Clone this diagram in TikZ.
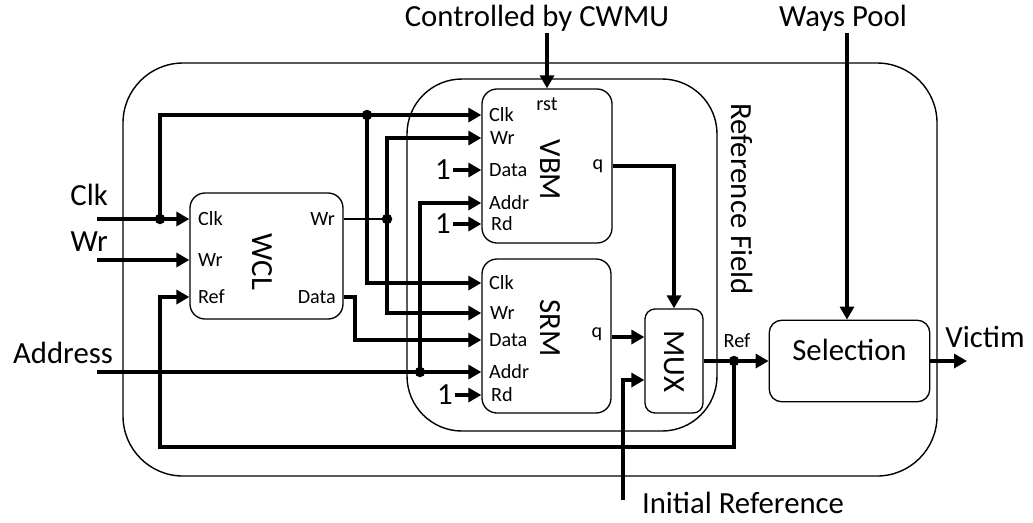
\documentclass[tikz,border=0pt]{standalone}
\usepackage{fontspec}
\setmainfont{Carlito}
\usetikzlibrary{arrows.meta, positioning, calc, fit}
\tikzset{
    blk/.style={draw, line width=0.75pt, rounded corners=0.3cm, inner sep=0pt, fill=white},
    frame/.style={draw, line width=0.8pt, rounded corners=1.2cm, inner sep=0pt},
    wire/.style={line width=0.08cm},
    arr/.style={wire, -{Triangle[length=0.26cm, width=0.28cm]}},
    dot/.style={circle, fill, inner sep=0pt, minimum size=0.21cm},
    lbl/.style={font=\fontsize{17.5}{20}\selectfont, inner sep=1pt},
    port/.style={font=\fontsize{11.5}{13}\selectfont, inner sep=1pt},
    blkname/.style={lbl, rotate=-90}
}
\begin{document}
\begin{tikzpicture}[x=0.02cm, y=-0.02cm]
        \useasboundingbox (0,0) rectangle (1033,522);
        % frames
        \node[frame, fit={(123,63) (937,476)}] (outer) {};
        \node[frame, rounded corners=1.1cm, fit={(407,79) (717,431)}] (rf) {};
        \node[blkname] (rftxt) at (742,199) {Reference Field};
        % blocks
        \node[blk, fit={(190,193) (343,319)}] (wcl) {};
        \node[blk, fit={(482,89) (612,243)}] (vbm) {};
        \node[blk, fit={(482,259) (611,413)}] (srm) {};
        \node[blk, rounded corners=0.2cm, fit={(645,309) (703,413)}] (mux) {};
        \node[blk, rounded corners=0.25cm, fit={(771,322) (928,400)}, lbl] (sel) {Selection};
        \node[blkname] (wcltxt) at (262,262) {WCL};
        \node[blkname] (vbmtxt) at (550,170) {VBM};
        \node[blkname] (srmtxt) at (550,328) {SRM};
        \node[blkname] (muxtxt) at (674,361) {MUX};
        % ports
        \node[port, anchor=west] (wclclk) at (196,219) {Clk};
        \node[port, anchor=west] (wclwr) at (196,260) {Wr};
        \node[port, anchor=west] (wclref) at (196,297) {Ref};
        \node[port, anchor=east] (wclwro) at (337,219) {Wr};
        \node[port, anchor=east] (wcldata) at (338,297) {Data};
        \node[port, anchor=west] (vbmclk) at (487,115) {Clk};
        \node[port, anchor=west] (vbmwr) at (488,138) {Wr};
        \node[port, anchor=west] (vbmdata) at (487,170) {Data};
        \node[port, anchor=west] (vbmaddr) at (487,203) {Addr};
        \node[port, anchor=west] (vbmrd) at (489,224) {Rd};
        \node[port] (vbmrst) at (547,104) {rst};
        \node[port] (vbmq) at (598,166) {q};
        \node[port, anchor=west] (srmclk) at (487,283) {Clk};
        \node[port, anchor=west] (srmwr) at (488,313) {Wr};
        \node[port, anchor=west] (srmdata) at (487,340) {Data};
        \node[port, anchor=west] (srmaddr) at (487,372) {Addr};
        \node[port, anchor=west] (srmrd) at (489,395) {Rd};
        \node[port] (srmq) at (597,334) {q};
        \node[port] (reftxt) at (737,341) {Ref};
        % outside labels
        \node[lbl] (cwmu) at (537,18) {Controlled by CWMU};
        \node[lbl] (ways) at (843,18) {Ways Pool};
        \node[lbl, anchor=east] (clk) at (110,195) {Clk};
        \node[lbl, anchor=east] (wr) at (110,242) {Wr};
        \node[lbl, anchor=east] (address) at (115,353) {Address};
        \node[lbl] (initref) at (743,503) {Initial Reference};
        \node[lbl] (victim) at (985,337) {Victim};
        \node[lbl] (one1) at (443,170) {1};
        \node[lbl] (one2) at (443,224) {1};
        \node[lbl] (one3) at (445,395) {1};
        % free ends
        \coordinate (clkin) at (97,219);
        \coordinate (wrin) at (97,260);
        \coordinate (addrin) at (97,372);
        \coordinate (initin) at (623,500);
        \coordinate (refloop) at (160,447);
        \coordinate (victout) at (967,361);
        % junctions
        \node[dot] (dclk) at (160,219) {};
        \node[dot] (dclk2) at (367,115) {};
        \node[dot] (dwr) at (387,219) {};
        \node[dot] (daddr) at (420,372) {};
        \node[dot] (dref) at (734,361) {};
        % wires
        \draw[arr] (clkin) -- (wcl.west |- wclclk);
        \draw[arr] (dclk.center) |- (vbm.west |- vbmclk);
        \draw[arr] (dclk2.center) |- (srm.west |- srmclk);
        \draw[arr] (wrin) -- (wcl.west |- wclwr);
        \draw[wire, line width=0.05cm] (wcl.east |- wclwro) -- (dwr.center);
        \draw[arr] (dwr.center) |- (vbm.west |- vbmwr);
        \draw[arr] (dwr.center) |- (srm.west |- srmwr);
        \draw[arr] (wcl.east |- wcldata) -- ++(11,0) |- (srm.west |- srmdata);
        \draw[arr] (addrin) -- (srm.west |- srmaddr);
        \draw[arr] (daddr.center) |- (vbm.west |- vbmaddr);
        \draw[arr] (one1) -- (vbm.west |- one1);
        \draw[arr] (one2) -- (vbm.west |- one2);
        \draw[arr] (one3) -- (srm.west |- one3);
        \draw[arr] (cwmu.south -| vbm.north) -- (vbm.north);
        \draw[arr] (vbm.east |- vbmq) -| (mux.north);
        \draw[arr] (srm.east |- 0,337) -- (mux.west |- 0,337);
        \draw[arr] (initin) |- ($(mux.west)+(0,19)$);
        \draw[arr] (mux.east) -- (sel.west);
        \draw[arr] (dref.center) |- (refloop) |- (wcl.west |- wclref);
        \draw[arr] (ways.south -| 847,0) -- (sel.north -| 847,0);
        \draw[arr] (sel.east) -- (victout);
    \end{tikzpicture}
\end{document}
